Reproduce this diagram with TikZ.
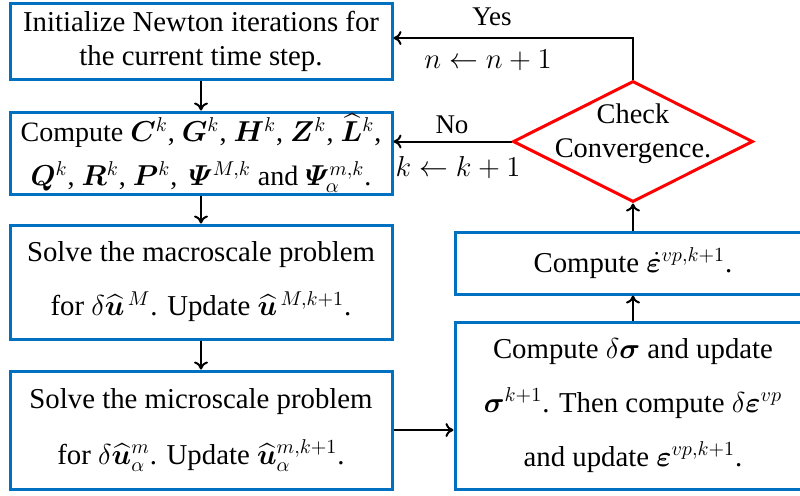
\documentclass[tikz,border=0pt]{standalone}
\usepackage{amsmath}
\usepackage{bm}
\usepackage{fontspec}
\setmainfont{Liberation Serif}
\usetikzlibrary{shapes.geometric,arrows.meta}
\definecolor{boxblue}{RGB}{0,112,192}
\definecolor{checkred}{RGB}{255,0,0}

\begin{document}
\begin{tikzpicture}[x=0.5pt,y=-0.5pt,
    box/.style={draw=boxblue,line width=1.5pt,align=center,inner sep=0pt,
        font=\fontsize{14.4}{17}\selectfont},
    flow/.style={-{To[length=4pt,width=7pt]},line width=1pt},
    lbl/.style={font=\fontsize{13.5}{17}\selectfont,inner sep=0pt}]
        \useasboundingbox (0,0) rectangle (800,495);

        % left column
        \node[box,minimum width=191pt,minimum height=38pt] (init) at (201,41)
            {Initialize Newton iterations for\\the current time step.};
        \node[box,minimum width=191pt,minimum height=41pt,
            font=\fontsize{14}{22}\selectfont] (comp) at (201,153)
            {Compute $\bm{C}^k$, $\bm{G}^k$, $\bm{H}^k$, $\bm{Z}^k$, $\widehat{\bm{L}}^k$,\\
             $\bm{Q}^k$, $\bm{R}^k$, $\bm{P}^k$, \,$\bm{\varPsi}^{M,k}$ and $\bm{\varPsi}^{m,k}_{\alpha}$.};
        \node[box,minimum width=191pt,minimum height=57pt,
            font=\fontsize{14.4}{27}\selectfont] (macro) at (201,282)
            {Solve the macroscale problem\\
             for $\delta\widehat{\bm{u}}^{\,M}$. Update $\widehat{\bm{u}}^{\,M,k+1}$.};
        \node[box,minimum width=191pt,minimum height=59pt,
            font=\fontsize{14.4}{28}\selectfont] (micro) at (201,430)
            {Solve the microscale problem\\
             for $\delta\widehat{\bm{u}}^m_\alpha$. Update $\widehat{\bm{u}}^{m,k+1}_\alpha$.};

        % right column
        \node[box,minimum width=178pt,minimum height=83.5pt,
            font=\fontsize{14.4}{27}\selectfont] (sigma) at (633,405.5)
            {Compute $\delta\bm{\sigma}$ and update\\
             $\bm{\sigma}^{k+1}$. Then compute $\delta\bm{\varepsilon}^{vp}$\\
             and update $\bm{\varepsilon}^{vp,k+1}$.};
        \node[box,minimum width=178pt,minimum height=31pt] (epsdot) at (633,263)
            {Compute $\dot{\bm{\varepsilon}}^{vp,k+1}$.};

        % convergence check
        \node[diamond,draw=checkred,line width=1.5pt,inner sep=0pt,
            minimum width=120pt,minimum height=60.5pt] (check) at (633,141.5) {};
        \node[lbl,align=center,font=\fontsize{14.2}{17}\selectfont] (checktxt) at (633,134)
            {Check\\Convergence.};

        % connectors
        \draw[flow] (init) -- (comp);
        \draw[flow] (comp) -- (macro);
        \draw[flow] (macro) -- (micro);
        \draw[flow] (micro.east) -- (micro.east -| sigma.west);
        \draw[flow] (sigma) -- (epsdot);
        \draw[flow] (epsdot) -- (check.south);
        \draw[flow] (check.north) |- ([yshift=1.5pt]init.east);
        \draw[flow] (check.west) -- (check.west -| comp.east);

        % branch labels
        \node[lbl] (yes) at (492,17) {Yes};
        \node[lbl] (nstep) at (488,60) {$n \leftarrow n+1$};
        \node[lbl] (no) at (452,125) {No};
        \node[lbl] (kstep) at (458,168) {$k \leftarrow k+1$};
\end{tikzpicture}
\end{document}
